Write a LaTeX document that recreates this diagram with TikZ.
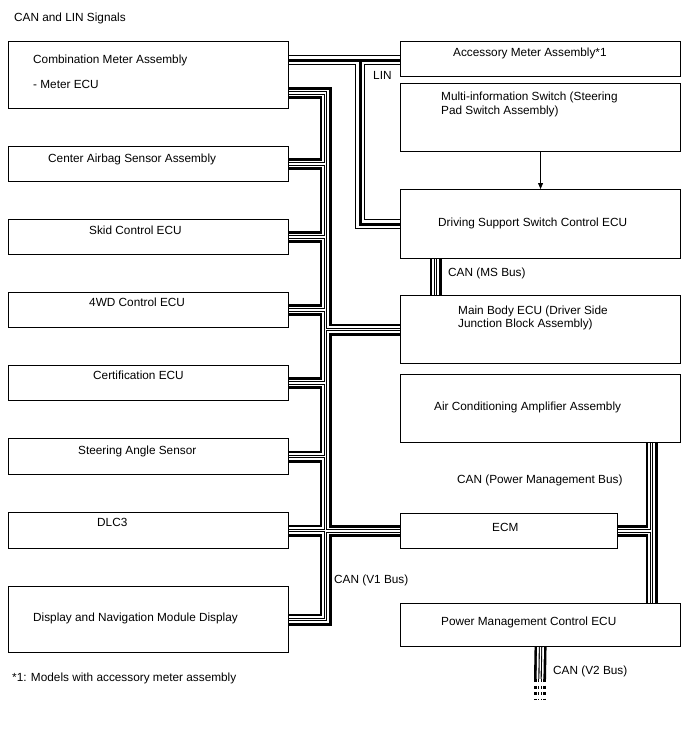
\documentclass[tikz,border=0pt]{standalone}
\usepackage{fontspec}
\setmainfont{Liberation Sans}
\usetikzlibrary{arrows.meta,backgrounds}
\begin{document}
\begin{tikzpicture}[x=1pt,y=-1pt,
  box/.style={draw=black, line width=1.1pt, fill=white, anchor=north west, inner sep=0pt},
  lbl/.style={anchor=west, inner sep=0pt, text height=8.4pt, text depth=0pt, font=\fontsize{11.8}{13}\selectfont},
  canout/.style={line width=12pt, black, line join=miter, line cap=butt},
  canin/.style={line width=6.8pt, white, line join=miter, line cap=butt},
  cancore/.style={line width=3.4pt, black, line join=miter, line cap=butt},
  cancorew/.style={line width=1.2pt, white, line join=miter, line cap=butt},
  linout/.style={line width=10.4pt, black, line join=miter, line cap=butt},
  linin/.style={line width=8.4pt, white, line join=miter, line cap=butt},
  lincore/.style={line width=3pt, black, line join=miter, line cap=butt},
]
\useasboundingbox (0,0) rectangle (688,755);

% left column boxes
\node[box, minimum width=280pt, minimum height=67pt] (cm) at (8,41) {};
\node[box, minimum width=280pt, minimum height=35pt] (airbag) at (8,146) {};
\node[box, minimum width=280pt, minimum height=35pt] (skid) at (8,219) {};
\node[box, minimum width=280pt, minimum height=35pt] (fwd) at (8,292) {};
\node[box, minimum width=280pt, minimum height=35pt] (cert) at (8,365) {};
\node[box, minimum width=280pt, minimum height=36pt] (steer) at (8,438) {};
\node[box, minimum width=280pt, minimum height=36pt] (dlc) at (8,512) {};
\node[box, minimum width=280pt, minimum height=66pt] (disp) at (8,586) {};
% right column boxes
\node[box, minimum width=280pt, minimum height=35pt] (acc) at (400,41) {};
\node[box, minimum width=280pt, minimum height=68pt] (multi) at (400,83) {};
\node[box, minimum width=280pt, minimum height=69pt] (dss) at (400,189) {};
\node[box, minimum width=280pt, minimum height=68pt] (mb) at (400,295) {};
\node[box, minimum width=280pt, minimum height=68pt] (ac) at (400,374) {};
\node[box, minimum width=217pt, minimum height=35pt] (ecm) at (400,513) {};
\node[box, minimum width=280pt, minimum height=43pt] (pm) at (400,603) {};

% helper coordinates
\coordinate (cmlin) at (288,60);
\coordinate (cmcan) at (288,93);
\coordinate (linj) at (360,60);
\coordinate (trunk) at (325.5,0);
\coordinate (msx) at (435.5,0);
\coordinate (pmx) at (651.5,0);
\coordinate (v2a) at (540,679);
\coordinate (v2b) at (540,700);

\begin{pgfonlayer}{background}
  \fill[white] (0,0) rectangle (688,755);
  % LIN
  \foreach \s in {linout,linin,lincore}{
    \draw[\s] (cmlin) -- (acc.west |- cmlin)
              (linj) -- (linj |- dss.west) -- (dss.west);
  }
  % CAN buses
  \foreach \s in {canout,canin,cancore,cancorew}{
    % V1 bus
    \draw[\s] (cmcan) -- (cmcan -| trunk) -- (trunk |- disp.east) -- (disp.east)
      (airbag.east) -- (airbag.east -| trunk)
      (skid.east) -- (skid.east -| trunk)
      (fwd.east) -- (fwd.east -| trunk)
      (cert.east) -- (cert.east -| trunk)
      (steer.east) -- (steer.east -| trunk)
      (dlc.east) -- (dlc.east -| trunk)
      (trunk |- mb.west) -- (mb.west)
      (trunk |- ecm.west) -- (ecm.west);
    % MS bus
    \draw[\s] (dss.south -| msx) -- (mb.north -| msx);
    % Power management bus
    \draw[\s] (pmx |- ac.south) -- (pmx |- pm.north)
      (ecm.east) -- (ecm.east -| pmx);
    % V2 bus
    \draw[\s] (pm.south) -- (v2a);
    \draw[\s, dash pattern=on 3pt off 3.5pt] (v2a) -- (v2b);
  }
\end{pgfonlayer}

\draw[-{Triangle[length=6pt,width=5pt]}, line width=0.8pt] (multi.south) -- (dss.north);

% texts
\node[lbl] (title) at (14,17) {CAN and LIN Signals};
\node[lbl] (t-cm1) at (33,59) {Combination Meter Assembly};
\node[lbl] (t-cm2) at (33,84) {- Meter ECU};
\node[lbl] (t-airbag) at (48,158) {Center Airbag Sensor Assembly};
\node[lbl] (t-skid) at (89,230) {Skid Control ECU};
\node[lbl] (t-4wd) at (89,302) {4WD Control ECU};
\node[lbl] (t-cert) at (93,375) {Certification ECU};
\node[lbl] (t-steer) at (78,450) {Steering Angle Sensor};
\node[lbl] (t-dlc) at (97,522) {DLC3};
\node[lbl] (t-disp) at (33,617) {Display and Navigation Module Display};
\node[lbl] (t-acc) at (453,52) {Accessory Meter Assembly*1};
\node[lbl] (t-multi1) at (441,96) {Multi-information Switch (Steering};
\node[lbl] (t-multi2) at (441,110) {Pad Switch Assembly)};
\node[lbl] (t-dss) at (438,222) {Driving Support Switch Control ECU};
\node[lbl] (t-mb1) at (458,310) {Main Body ECU (Driver Side};
\node[lbl] (t-mb2) at (458,323) {Junction Block Assembly)};
\node[lbl] (t-ac) at (434,406) {Air Conditioning Amplifier Assembly};
\node[lbl] (t-ecm) at (492,527) {ECM};
\node[lbl] (t-pm) at (441,621) {Power Management Control ECU};
\node[lbl] (l-lin) at (373,75) {LIN};
\node[lbl] (l-ms) at (448,272) {CAN (MS Bus)};
\node[lbl] (l-pmb) at (457,479) {CAN (Power Management Bus)};
\node[lbl] (l-v1) at (334,579) {CAN (V1 Bus)};
\node[lbl] (l-v2) at (553,670) {CAN (V2 Bus)};
\node[lbl] (foot) at (12,677) {*1: Models with accessory meter assembly};
\end{tikzpicture}
\end{document}
